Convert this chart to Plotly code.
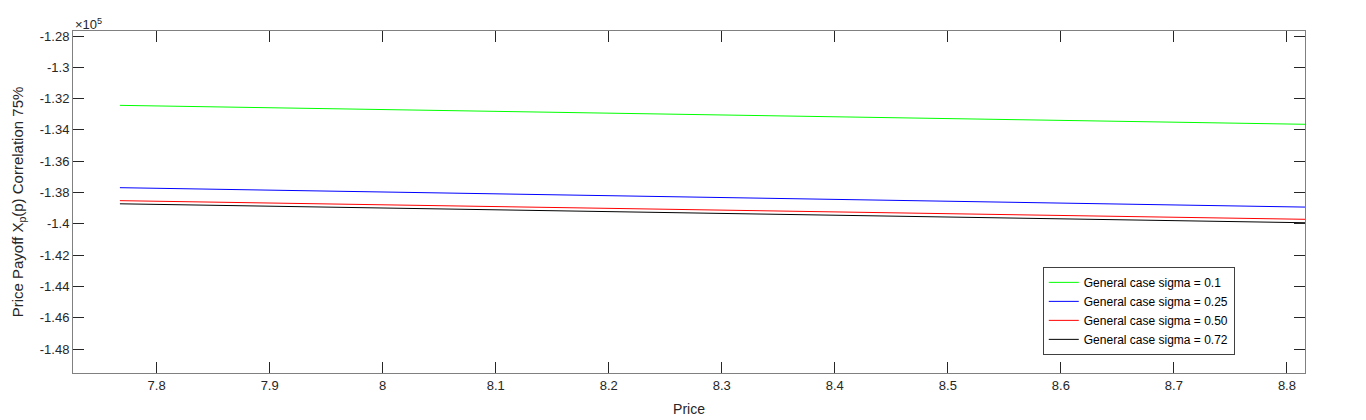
import plotly.graph_objects as go

# price grid (line starts a bit left of 7.8 and runs to the right edge)
price = [7.7675, 8.816]

# payoff values (real units, axis shows them x 10^5)
sigma_010 = [-132430, -133640]
sigma_025 = [-137690, -138930]
sigma_050 = [-138520, -139710]
sigma_072 = [-138720, -139930]

series_names = [
    "General case sigma = 0.1",
    "General case sigma = 0.25",
    "General case sigma = 0.50",
    "General case sigma = 0.72",
]
series_colors = ["#00ff00", "#0000ff", "#ff0000", "#000000"]

y_ticks = [-1.28, -1.30, -1.32, -1.34, -1.36, -1.38, -1.40, -1.42, -1.44, -1.46, -1.48]
x_ticks = [7.8, 7.9, 8.0, 8.1, 8.2, 8.3, 8.4, 8.5, 8.6, 8.7, 8.8]

FONT = "Liberation Sans, Arial, sans-serif"
AXIS_GREY = "#808080"


def fmt(v):
    return f"{v:g}"


fig = go.Figure()
for name, color, values in zip(
    series_names, series_colors, [sigma_010, sigma_025, sigma_050, sigma_072]
):
    fig.add_trace(
        go.Scatter(
            x=price,
            y=values,
            mode="lines",
            name=name,
            line={"color": color, "width": 1},
        )
    )

axis_common = dict(
    showline=True,
    linecolor=AXIS_GREY,
    linewidth=1,
    mirror="ticks",
    ticks="inside",
    ticklen=11,
    tickcolor="#262626",
    tickwidth=1,
    showgrid=False,
    zeroline=False,
    automargin=False,
    tickfont={"family": FONT, "size": 13, "color": "#262626"},
)

fig.update_xaxes(
    range=[7.726, 8.816],
    tickvals=x_ticks,
    ticktext=[fmt(v) for v in x_ticks],
    title={"text": "Price", "font": {"family": FONT, "size": 14, "color": "#262626"}, "standoff": 12},
    **axis_common,
)
fig.update_yaxes(
    range=[-149530, -127680],
    tickvals=[v * 1e5 for v in y_ticks],
    ticktext=[fmt(v) for v in y_ticks],
    title={
        "text": "Price Payoff X<sub>p</sub>(p) Correlation 75%",
        "font": {"family": FONT, "size": 15, "color": "#262626"},
        "standoff": 12,
    },
    **axis_common,
)

fig.add_annotation(
    text="×10<sup>5</sup>",
    xref="paper",
    yref="paper",
    x=0,
    y=1,
    xanchor="left",
    yanchor="bottom",
    showarrow=False,
    font={"family": FONT, "size": 13, "color": "#262626"},
    yshift=-3,
)

fig.update_layout(
    width=1366,
    height=420,
    margin={"l": 73, "r": 61, "t": 31, "b": 47},
    paper_bgcolor="white",
    plot_bgcolor="white",
    font={"family": FONT, "color": "#262626"},
    showlegend=True,
    legend={
        "x": 0.943,
        "y": 0.053,
        "xanchor": "right",
        "yanchor": "bottom",
        "bgcolor": "white",
        "bordercolor": "#404040",
        "borderwidth": 1,
        "font": {"family": FONT, "size": 12, "color": "#000000"},
        "tracegroupgap": 0,
    },
)

# the page's default body margin would shift the whole chart by 8px
fig.write_html(
    "out.html",
    config={"displayModeBar": False},
    post_script="document.body.style.margin = '0';",
)
